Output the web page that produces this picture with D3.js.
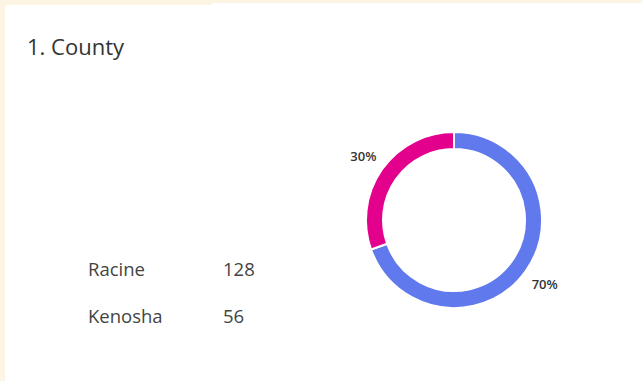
<!DOCTYPE html>
<html>
<head>
<meta charset="utf-8">
<script src="https://cdn.jsdelivr.net/npm/d3@7/dist/d3.min.js"></script>
<style>
  html, body { margin: 0; padding: 0; background: #fdf4e4; }
  svg { display: block; }
</style>
</head>
<body>
<svg id="chart" width="642" height="381"></svg>
<script>
// Survey question: responses per county
const title = "1. County";
const categories = ["Racine", "Kenosha"];
const counts = [128, 56];
const colors = ["#6079ec", "#e3008c"];

const svg = d3.select("#chart");
const W = 642, H = 381;

// card background with cream page edge around it
svg.append("rect").attr("x", 0).attr("y", 0).attr("width", W).attr("height", H).attr("fill", "#fdf4e4");
svg.append("rect").attr("x", 5).attr("y", 3).attr("width", W - 5).attr("height", H - 3).attr("fill", "#ffffff");
svg.append("rect").attr("x", 0).attr("y", 0).attr("width", 212).attr("height", 5).attr("fill", "#fdf4e4");

const font = "'Open Sans', 'Noto Sans', sans-serif";

svg.append("text")
  .attr("x", 27).attr("y", 55)
  .attr("font-family", font).attr("font-size", 22)
  .attr("fill", "#333")
  .text(title);

// legend table: name and count
const rowY = d3.scalePoint().domain(categories).range([276, 323]);
const legend = svg.append("g");
legend.selectAll("text.name").data(categories).join("text")
  .attr("class", "name")
  .attr("x", 88).attr("y", d => rowY(d))
  .attr("font-family", font).attr("font-size", 18.5).attr("fill", "#444")
  .text(d => d);
legend.selectAll("text.val").data(counts).join("text")
  .attr("class", "val")
  .attr("x", 223).attr("y", (d, i) => rowY(categories[i]))
  .attr("font-family", font).attr("font-size", 18.5).attr("fill", "#444")
  .text(d => d);

// donut
const cx = 454, cy = 220, rOuter = 88, rInner = 71;
const total = d3.sum(counts);
const pie = d3.pie().sort(null).value(d => d)(counts);
const arc = d3.arc().innerRadius(rInner).outerRadius(rOuter);
const labelArc = d3.arc().innerRadius(rOuter + 23).outerRadius(rOuter + 23);

const g = svg.append("g").attr("transform", `translate(${cx},${cy})`);
g.selectAll("path").data(pie).join("path")
  .attr("d", arc)
  .attr("fill", (d, i) => colors[i])
  .attr("stroke", "#fff").attr("stroke-width", 2);

g.selectAll("text").data(pie).join("text")
  .attr("transform", d => `translate(${labelArc.centroid(d)})`)
  .attr("text-anchor", "middle").attr("dy", "0.35em")
  .attr("font-family", font).attr("font-size", 13).attr("font-weight", 600)
  .attr("fill", "#333")
  .text(d => Math.round(d.value / total * 100) + "%");
</script>
</body>
</html>
